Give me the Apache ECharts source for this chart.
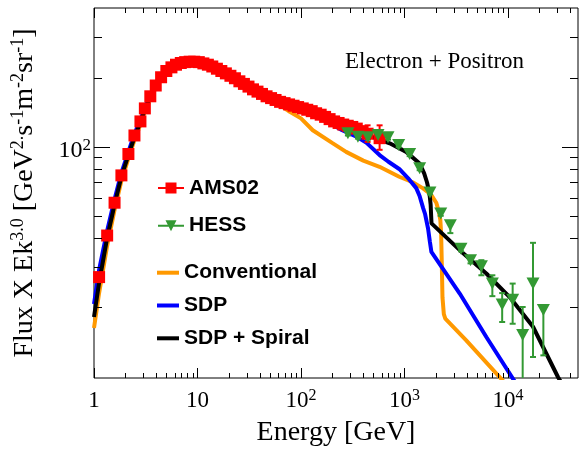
<!DOCTYPE html>
<html>
<head>
<meta charset="utf-8">
<script src="https://cdn.jsdelivr.net/npm/echarts@6/dist/echarts.min.js"></script>
<style>
  html, body { margin: 0; padding: 0; background: #fff; }
  #chart { width: 579px; height: 452px; }
</style>
</head>
<body>
<div id="chart"></div>
<script>
// AMS02 electron + positron, E [GeV] vs flux x E^3
var amsE = [1.12, 1.34, 1.58, 1.84, 2.15, 2.46, 2.81, 3.1, 3.5, 3.95, 4.45, 5.0, 5.6, 6.2, 6.9, 7.6, 8.4, 9.3,
  10.3, 11.4, 12.6, 13.9, 15.4, 17.0, 18.8, 20.8, 23.0, 25.4, 28.1, 31.1, 34.4, 38.0, 42.0, 46.5, 51.4, 56.8,
  62.8, 69.4, 76.7, 84.8, 93.8, 104, 115, 127, 140, 155, 171, 189, 209, 231, 256, 283, 313, 346, 383, 440, 575];
var amsF = [27, 41, 57, 75, 93, 112, 129, 147, 166, 185, 201, 214, 222, 228, 232, 234, 235, 235,
  234, 231, 228, 224, 219, 214, 209, 204, 199, 193, 188, 183, 178, 174, 170, 166, 163, 160,
  157, 155, 153, 151, 149, 147, 145, 143, 140, 138, 135, 132, 129, 127, 125, 123.5, 122, 120, 117, 114, 109];
var amsErrE = [440, 575];
var amsErrLo = [105, 97];
var amsErrHi = [124, 124];

// HESS
var hessE = [284, 355, 444, 555, 693, 879, 1122, 1402, 1763, 2240, 2775, 3515, 4345, 5535, 7065, 8790, 11100, 13870, 17460, 21980];
var hessF = [114.4, 110.6, 109.9, 112.5, 109.9, 101.7, 92.9, 80.5, 63.1, 51.2, 45.5, 35.9, 32.0, 30.1, 25.3, 20.5, 21.5, 15.1, 25.3, 19.4];
var hessLo = [112, 108.5, 107.5, 110, 107.5, 99.5, 91, 79, 62, 50, 42, 35, 31, 27.5, 22.3, 17.2, 16.9, 9.6, 12.1, 12.3];
var hessHi = [116.5, 112.5, 112, 114.5, 112, 103.5, 94.5, 82, 64.5, 52.5, 46.5, 37, 33, 32, 27.5, 23.0, 25.3, 20.0, 38.1, 20.4];

// models
var convE = [1, 1.12, 1.34, 1.58, 1.84, 2.15, 2.46, 2.81, 3.1, 3.5, 3.95, 4.45, 5, 5.6, 6.5, 8.5, 11, 15, 20, 25, 35, 50,
  78, 100, 130, 200, 273, 400, 574, 890, 1200, 1500, 1800, 2030, 2150, 2220, 2260, 2290, 2330, 2400, 2480, 3950, 9000];
var convF = [16.2, 23, 37, 53, 71, 89, 107, 125, 142, 162, 181, 198, 211, 220, 229, 234, 233, 224, 212, 201, 182, 163,
  142, 133, 118, 104, 95, 87, 81.8, 74, 70, 66, 62, 57, 52, 48, 42, 32, 22, 18.6, 17.8, 14.3, 9.5];

var sdpE = [1, 1.12, 1.34, 1.58, 1.84, 2.15, 2.46, 2.81, 3.1, 3.5, 3.95, 4.45, 5, 5.6, 6.5, 8.5, 11, 15, 20, 30, 50, 80,
  100, 140, 200, 250, 340, 430, 575, 700, 890, 1110, 1300, 1400, 1515, 1580, 1690, 1760, 1820, 3420, 6180, 12000];
var sdpF = [20.6, 29, 43, 59, 77, 95, 114, 131, 149, 168, 187, 203, 215, 223, 231, 236, 233, 222, 208, 186, 163, 152,
  147, 137, 125, 118, 111, 104, 92, 86, 80, 72, 66, 61, 54, 51, 44, 38.5, 34.8, 22.9, 14.8, 9.25];

var spiralE = [1, 1.12, 1.34, 1.58, 1.84, 2.15, 2.46, 2.81, 3.1, 3.5, 3.95, 4.45, 5, 5.6, 6.5, 8.5, 11, 15, 20, 30, 50, 80,
  100, 140, 200, 300, 400, 500, 720, 1040, 1400, 1550, 1650, 1740, 1790, 1810, 1825, 3420, 6180, 10380, 17460, 30400, 33000];
var spiralF = [18.1, 25.5, 40, 56, 74, 92, 110, 128, 145, 165, 184, 200, 213, 222, 230, 235, 233, 222, 208, 186, 163, 152,
  148, 140, 131, 120, 114, 110, 103.5, 95, 84.6, 76.5, 70, 63, 56, 50, 46.3, 35.4, 28.0, 22.1, 16.4, 9.9, 9.3];

// axis ticks
var xMajor = [1, 10, 100, 1000, 10000];
var yMajor = [100];
var yMinor = [20, 30, 40, 50, 60, 70, 80, 90, 200, 300];
var xLabels = {1: '{n|1}', 10: '{n|10}', 100: '{n|10}{s|2}', 1000: '{n|10}{s|3}', 10000: '{n|10}{s|4}'};
var yLabels = {100: '{n|10}{s|2}'};

var xMinor = [];
xMajor.forEach(function (d) {
  for (var k = 2; k <= 9; k++) {
    if (d * k < 47500) xMinor.push(d * k);
  }
});

var tickData = [];
xMajor.forEach(function (v) { tickData.push([v, 100, 0]); });
xMinor.forEach(function (v) { tickData.push([v, 100, 1]); });
yMajor.forEach(function (v) { tickData.push([10, v, 2]); });
yMinor.forEach(function (v) { tickData.push([10, v, 3]); });

function zip(a, b) {
  return a.map(function (v, i) { return [v, b[i]]; });
}
function zip3(a, b, c) {
  return a.map(function (v, i) { return [v, b[i], c[i]]; });
}

var serif = 'Liberation Serif';
var sans = 'Liberation Sans';

function renderTick(params, api) {
  var cs = params.coordSys;
  var kind = api.value(2);
  var st = { stroke: '#000', lineWidth: 1 };
  var len;
  if (kind < 2) {
    var px = Math.round(api.coord([api.value(0), 100])[0]) + 0.5;
    len = kind === 0 ? 10 : 5;
    var b = cs.y + cs.height;
    return { type: 'group', children: [
      { type: 'line', shape: { x1: px, y1: b, x2: px, y2: b - len }, style: st },
      { type: 'line', shape: { x1: px, y1: cs.y, x2: px, y2: cs.y + len }, style: st }
    ] };
  }
  var py = Math.round(api.coord([10, api.value(1)])[1]) + 0.5;
  len = kind === 2 ? 16 : 8;
  var r = cs.x + cs.width;
  return { type: 'group', children: [
    { type: 'line', shape: { x1: cs.x, y1: py, x2: cs.x + len, y2: py }, style: st },
    { type: 'line', shape: { x1: r, y1: py, x2: r - len, y2: py }, style: st }
  ] };
}

function errRenderer(color) {
  return function (params, api) {
    var x = api.value(0);
    var lo = api.coord([x, api.value(1)]);
    var hi = api.coord([x, api.value(2)]);
    var st = { stroke: color, lineWidth: 2 };
    var cap = 3;
    return { type: 'group', children: [
      { type: 'line', shape: { x1: lo[0], y1: lo[1], x2: hi[0], y2: hi[1] }, style: st },
      { type: 'line', shape: { x1: hi[0] - cap, y1: hi[1], x2: hi[0] + cap, y2: hi[1] }, style: st },
      { type: 'line', shape: { x1: lo[0] - cap, y1: lo[1], x2: lo[0] + cap, y2: lo[1] }, style: st }
    ] };
  };
}

var chart = echarts.init(document.getElementById('chart'));
chart.setOption({
  animation: false,
  title: {
    text: 'Electron + Positron',
    left: 345,
    top: 50.5,
    padding: 0,
    textStyle: { fontFamily: serif, fontSize: 23, fontWeight: 'normal', color: '#000' }
  },
  grid: {
    left: 94, right: 1, top: 8, bottom: 74,
    containLabel: false,
    outerBoundsMode: 'none',
    show: true, borderColor: '#000', borderWidth: 1
  },
  legend: [
    {
      orient: 'vertical', left: 158, top: 177.5, padding: 0,
      itemWidth: 26, itemHeight: 11, itemGap: 16.7,
      selectedMode: false,
      textStyle: { fontFamily: sans, fontWeight: 'bold', fontSize: 21, color: '#000' },
      data: [
        { name: 'AMS02', icon: 'path://M0,4.5L7.5,4.5L7.5,0L18.5,0L18.5,4.5L26,4.5L26,6.5L18.5,6.5L18.5,11L7.5,11L7.5,6.5L0,6.5Z', itemStyle: { color: '#ff0000', opacity: 1 } },
        { name: 'HESS', icon: 'path://M0,4.5L9.75,4.5L7.5,0L18.5,0L16.25,4.5L26,4.5L26,6.5L15.25,6.5L13,11L10.75,6.5L0,6.5Z', itemStyle: { color: '#339933', opacity: 1 } }
      ]
    },
    {
      orient: 'vertical', left: 157, top: 262.2, padding: 0,
      itemWidth: 22, itemHeight: 4, itemGap: 11.8,
      selectedMode: false,
      icon: 'rect',
      textStyle: { fontFamily: sans, fontWeight: 'bold', fontSize: 21, color: '#000' },
      data: [
        { name: 'Conventional', itemStyle: { color: '#ff9900', borderWidth: 0 } },
        { name: 'SDP', itemStyle: { color: '#0000ff', borderWidth: 0 } },
        { name: 'SDP + Spiral', itemStyle: { color: '#000000', borderWidth: 0 } }
      ]
    }
  ],
  xAxis: {
    type: 'log', logBase: 10, min: 1, max: 47500,
    name: 'Energy [GeV]', nameLocation: 'middle', nameGap: 41,
    nameTextStyle: { fontFamily: serif, fontSize: 28, color: '#000' },
    axisLine: { show: false }, axisTick: { show: false }, splitLine: { show: false },
    axisLabel: {
      margin: 10, color: '#000',
      formatter: function (v) { return xLabels[Math.round(v)] || ''; },
      rich: {
        n: { fontFamily: serif, fontSize: 23, lineHeight: 26, color: '#000' },
        s: { fontFamily: serif, fontSize: 16, lineHeight: 16, verticalAlign: 'top', color: '#000' }
      }
    }
  },
  yAxis: {
    type: 'log', logBase: 10, min: 9.8, max: 403,
    name: '{n|Flux X Ek}{s|3.0}{n| [GeV}{s|2.}{n|s}{s|-1}{n|m}{s|-2}{n|sr}{s|-1}{n|]}',
    nameLocation: 'middle', nameGap: 53, nameRotate: 90,
    nameTextStyle: {
      color: '#000',
      rich: {
        n: { fontFamily: serif, fontSize: 28, lineHeight: 32, color: '#000' },
        s: { fontFamily: serif, fontSize: 18, lineHeight: 18, verticalAlign: 'top', color: '#000' }
      }
    },
    axisLine: { show: false }, axisTick: { show: false }, splitLine: { show: false },
    axisLabel: {
      margin: 3, color: '#000', padding: [8, 0, 0, 0],
      formatter: function (v) { return yLabels[Math.round(v)] || ''; },
      rich: {
        n: { fontFamily: serif, fontSize: 24, lineHeight: 27, color: '#000' },
        s: { fontFamily: serif, fontSize: 17, lineHeight: 17, verticalAlign: 'top', color: '#000' }
      }
    }
  },
  series: [
    {
      name: 'Conventional', type: 'line', data: zip(convE, convF),
      showSymbol: false, symbol: 'none', color: '#ff9900',
      lineStyle: { width: 4, color: '#ff9900' }, z: 2
    },
    {
      name: 'SDP', type: 'line', data: zip(sdpE, sdpF),
      showSymbol: false, symbol: 'none', color: '#0000ff',
      lineStyle: { width: 4, color: '#0000ff' }, z: 2
    },
    {
      name: 'SDP + Spiral', type: 'line', data: zip(spiralE, spiralF),
      showSymbol: false, symbol: 'none', color: '#000000',
      lineStyle: { width: 4, color: '#000000' }, z: 2
    },
    {
      type: 'custom', renderItem: errRenderer('#ff0000'), clip: true, silent: true,
      data: zip3(amsErrE, amsErrLo, amsErrHi), encode: { x: 0, y: [1, 2] }, z: 3
    },
    {
      name: 'AMS02', type: 'scatter', data: zip(amsE, amsF),
      symbol: 'rect', symbolSize: 12, itemStyle: { color: '#ff0000', opacity: 1 }, z: 4
    },
    {
      type: 'custom', renderItem: errRenderer('#339933'), clip: true, silent: true,
      data: zip3(hessE, hessLo, hessHi), encode: { x: 0, y: [1, 2] }, z: 3
    },
    {
      name: 'HESS', type: 'scatter', data: zip(hessE, hessF),
      symbol: 'triangle', symbolRotate: 180, symbolSize: [13, 12],
      itemStyle: { color: '#339933', opacity: 1 }, z: 4
    },
    {
      type: 'custom', renderItem: renderTick, silent: true,
      data: tickData, encode: { x: 0, y: 1 }, z: 5
    }
  ]
});
</script>
</body>
</html>
